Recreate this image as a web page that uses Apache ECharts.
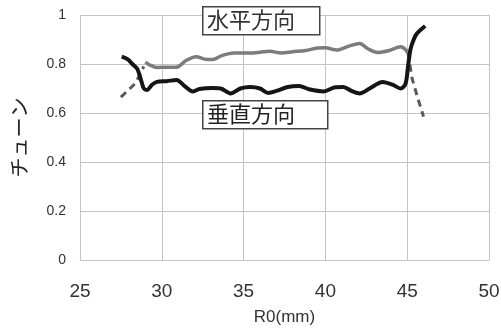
<!DOCTYPE html>
<html><head><meta charset="utf-8">
<script src="https://cdn.jsdelivr.net/npm/echarts@6/dist/echarts.min.js"></script>
<style>html,body{margin:0;padding:0;background:#fff}#c{width:501px;height:328px}</style>
</head><body><div id="c"></div>
<script>
var xTicks = [25, 30, 35, 40, 45, 50];
var yTicks = [0, 0.2, 0.4, 0.6, 0.8, 1];
var xName = 'R0(mm)';
var yName = 'チューン';
var labelH = '水平方向';
var labelV = '垂直方向';

var verticalData = [[27.55,0.83],[27.9,0.82],[28.2,0.80],[28.5,0.78],[28.75,0.73],[28.9,0.70],[29.1,0.694],[29.4,0.715],[29.7,0.727],[30.3,0.73],[30.9,0.735],[31.4,0.71],[31.9,0.688],[32.3,0.698],[33.1,0.702],[33.6,0.70],[34.2,0.68],[34.8,0.70],[35.4,0.706],[36.0,0.70],[36.5,0.682],[37.0,0.69],[37.7,0.706],[38.4,0.71],[39.0,0.697],[39.9,0.688],[40.6,0.705],[41.1,0.706],[41.6,0.69],[42.1,0.68],[42.7,0.70],[43.5,0.727],[44.1,0.716],[44.6,0.70],[44.9,0.72],[45.05,0.79],[45.2,0.86],[45.4,0.9],[45.6,0.925],[46.1,0.955]];
var horizontalData = [[29.0,0.808],[29.3,0.795],[29.7,0.786],[30.3,0.787],[30.9,0.787],[31.5,0.815],[32.1,0.83],[32.6,0.82],[33.1,0.818],[33.7,0.835],[34.4,0.845],[35.4,0.845],[36.0,0.848],[36.6,0.852],[37.3,0.845],[38.0,0.85],[38.8,0.855],[39.5,0.865],[40.0,0.866],[40.7,0.857],[41.4,0.872],[42.1,0.884],[42.6,0.862],[43.2,0.847],[43.9,0.855],[44.6,0.87],[44.85,0.862],[45.05,0.845]];
var dashedData = [[27.5,0.665],[28.4,0.722],[28.9,0.79],[null,null],[45.05,0.845],[45.3,0.74],[45.65,0.66],[46.0,0.585]];

var chart = echarts.init(document.getElementById('c'));
chart.setOption({
  animation: false,
  grid: {left: 80, right: 12, top: 15, bottom: 68, outerBoundsMode: 'none', containLabel: false},
  xAxis: {
    type: 'value', min: xTicks[0], max: xTicks[xTicks.length-1], interval: 5,
    name: xName, nameLocation: 'middle', nameGap: 49,
    nameTextStyle: {fontFamily: 'Liberation Sans, Arial, sans-serif', fontSize: 17, color: '#333'},
    axisLine: {show: true, lineStyle: {color: '#c4c4c4', width: 1}},
    axisTick: {show: false},
    axisLabel: {fontFamily: 'Liberation Sans, Arial, sans-serif', fontSize: 19, color: '#333', margin: 22},
    splitLine: {show: true, lineStyle: {color: '#c4c4c4', width: 1}}
  },
  yAxis: {
    type: 'value', min: yTicks[0], max: yTicks[yTicks.length-1], interval: 0.2,
    name: yName, nameLocation: 'middle', nameRotate: 90, nameGap: 51,
    nameTextStyle: {fontFamily: 'Noto Sans CJK JP', fontSize: 20, color: '#222'},
    axisLine: {show: true, lineStyle: {color: '#c4c4c4', width: 1}},
    axisTick: {show: false},
    axisLabel: {fontFamily: 'Liberation Sans, Arial, sans-serif', fontSize: 14, color: '#333', margin: 14},
    splitLine: {show: true, lineStyle: {color: '#c4c4c4', width: 1}}
  },
  series: [
    {type: 'line', data: dashedData, symbol: 'none', connectNulls: false,
     lineStyle: {color: '#5a5a5a', width: 3, type: [7, 5]}, z: 2},
    {type: 'line', data: horizontalData, symbol: 'none', smooth: 0.3,
     lineStyle: {color: '#7c7c7c', width: 3.5}, z: 3},
    {type: 'line', data: verticalData, symbol: 'none', smooth: 0.3,
     lineStyle: {color: '#151515', width: 4}, z: 4}
  ],
  graphic: [
    {type: 'rect', left: 202, top: 6, shape: {width: 117, height: 28},
     style: {fill: '#fff', stroke: '#444', lineWidth: 1.5}, z: 10},
    {type: 'text', left: 207, top: 9, style: {text: labelH, font: '22px "Noto Sans CJK JP"', fill: '#333'}, z: 11},
    {type: 'rect', left: 202, top: 100, shape: {width: 125, height: 28},
     style: {fill: '#fff', stroke: '#444', lineWidth: 1.5}, z: 10},
    {type: 'text', left: 207, top: 103, style: {text: labelV, font: '22px "Noto Sans CJK JP"', fill: '#222'}, z: 11}
  ]
});
</script></body></html>
